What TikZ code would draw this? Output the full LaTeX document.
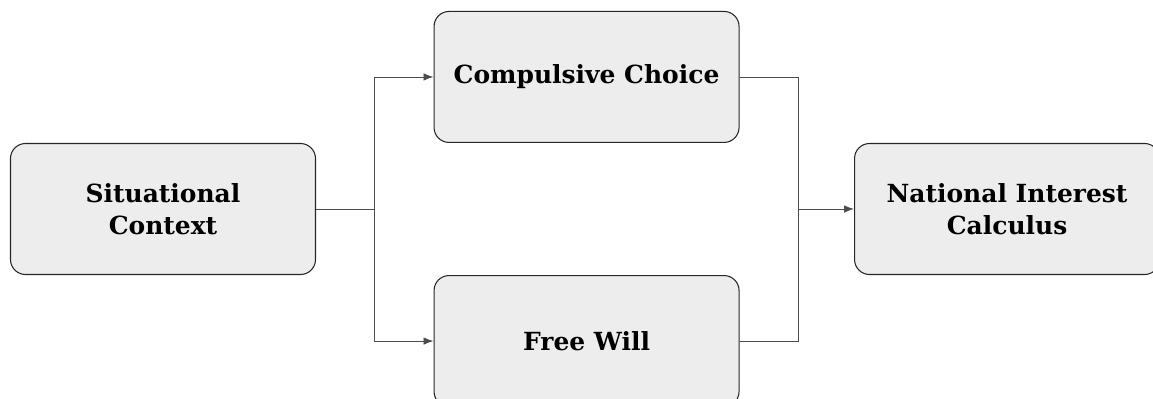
\documentclass[tikz,border=0pt]{standalone}
\usepackage{fontspec}
\setmainfont{DejaVu Serif}
\usepackage{xcolor}
\usepackage{tikz}
\usetikzlibrary{shapes,arrows.meta,positioning,calc}

\begin{document}
\begin{tikzpicture}[
    node distance=2.35cm,
    box/.style={rectangle, rounded corners=0.3cm, draw=black!85, line width=0.6pt, fill=black!7, minimum width=6.1cm, minimum height=2.62cm, align=center, font=\fontsize{14.2}{18.2}\selectfont\bfseries},
    link/.style={draw=black!70, line width=0.5pt},
    arrow/.style={link, -{Latex[length=2mm,width=1.5mm]}}
]
\useasboundingbox (-3.26,-3.78) rectangle (19.8,4.18);

\node[box] (sit) {Situational\\Context};
\node[box, above right=0cm and 2.35cm of sit] (comp) {Compulsive Choice};
\node[box, below right=0cm and 2.35cm of sit] (free) {Free Will};
\node[box, right=10.76cm of sit] (nat) {National Interest\\Calculus};

\coordinate[right=1.16cm of sit.east] (split);
\coordinate (merge) at ([xshift=1.17cm]comp.east |- nat.west);

\draw[link] (sit) -- (split);
\draw[arrow] (split) |- (comp);
\draw[arrow] (split) |- (free);
\draw[link] (comp) -| (merge);
\draw[link] (free) -| (merge);
\draw[arrow] (merge) -- (nat);

\end{tikzpicture}
\end{document}
